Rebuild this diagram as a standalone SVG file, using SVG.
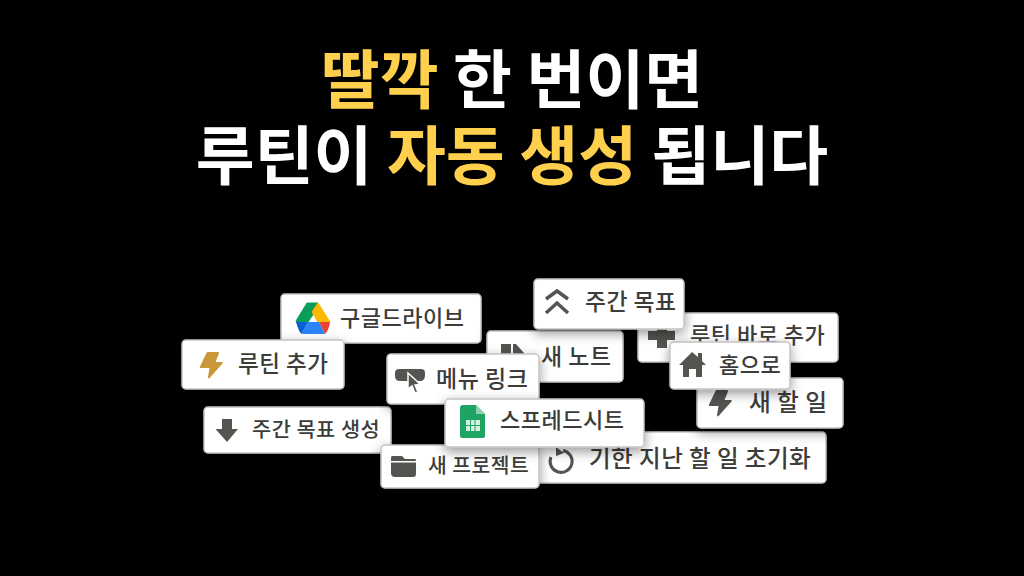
<svg xmlns="http://www.w3.org/2000/svg" width="1024" height="576" viewBox="0 0 1024 576">
<style>
.title{font-family:"Noto Sans CJK KR","Noto Sans",sans-serif;font-weight:700;font-size:64px;fill:#fff;text-anchor:middle}
.hl{fill:#ffd04d}
.card{fill:#fff;stroke:#c4c4c4;stroke-width:1.5;filter:url(#sh)}
.lb{font-family:"Noto Sans CJK KR","Noto Sans",sans-serif;font-weight:500;font-size:22px;fill:#3c3c3a;letter-spacing:.5px}
.ic{fill:#545450}
</style>
<defs>
<filter id="sh" x="-20%" y="-30%" width="140%" height="170%"><feDropShadow dx="0" dy="4" stdDeviation="6" flood-color="#000" flood-opacity=".4"/></filter>
<path id="bolt" d="M9 0 L19 0 Q20.500 0 20 1.500 L16.500 10 H23 Q24.500 10 23.500 11.500 L11 25.500 Q9 27.500 9 25 L10.500 16 H2 Q0.500 16 1 14.500 L7.500 1 Q8 0 9 0Z"/>
</defs>
<rect width="1024" height="576" fill="#000"/>
<text class="title" x="512" y="103"><tspan class="hl">딸깍</tspan> 한 번이면</text>
<text class="title" x="512" y="179">루틴이 <tspan class="hl">자동 생성</tspan> 됩니다</text>

<g id="node-drive"><rect class="card" x="281" y="294" width="200" height="49" rx="4"/>
<path d="M307 303H318L314 313L302 331L296 321Z" fill="#0a9d57" stroke="#0a9d57" stroke-linejoin="round"/><path d="M318 303L330 322H318L312 312Z" fill="#fdb900" stroke="#fdb900" stroke-linejoin="round"/><path d="M296 322H307L302 334Q299 333 296 322Z" fill="#0a5fd0"/><path d="M307 322H319L325 334H302Z" fill="#2a84fc"/><path d="M319 322H330Q329 330 325 334Z" fill="#ea4335"/>
<text class="lb" x="340" y="326">구글드라이브</text></g>
<g id="node-add-routine"><rect class="card" x="182" y="340" width="162" height="49" rx="4"/>
<use href="#bolt" x="199" y="352" fill="#c9963a"/>
<text class="lb" x="238" y="372" style="font-size:22.500px">루틴 추가</text></g>
<g id="node-weekly-create"><rect class="card" x="204" y="407" width="187" height="46" rx="4"/>
<path class="ic" d="M222 419H232V429H238L227 442L215.500 429H222Z"/>
<text class="lb" x="252" y="437" style="font-size:20.800px">주간 목표 생성</text></g>
<g id="node-note"><rect class="card" x="487" y="331" width="136" height="51" rx="4"/>
<path class="ic" d="M501 344H511V356H501ZM513 344H516L524 353V356H513Z"/>
<text class="lb" x="541" y="365" style="font-size:23px">새 노트</text></g>
<g id="node-reset"><rect class="card" x="535" y="432" width="291" height="51" rx="4"/>
<path d="M551 457A11 11 0 1 0 563 450.500" fill="none" stroke="#545450" stroke-width="3"/><path class="ic" d="M556 447L564 453L556 456Z"/>
<text class="lb" x="589" y="467" style="font-size:23.500px">기한 지난 할 일 초기화</text></g>
<g id="node-project"><rect class="card" x="381" y="445" width="158" height="43" rx="4"/>
<path class="ic" d="M392 456H402L405 459H415Q416 459 416 461V474Q416 477 413 477H395Q391 477 391 473V458Q391 456 392 456Z"/><rect x="391" y="461" width="25" height="1.500" fill="#fff"/>
<text class="lb" x="428" y="473" style="font-size:20.400px">새 프로젝트</text></g>
<g id="node-menu"><rect class="card" x="387" y="354" width="152" height="50" rx="4"/>
<path class="ic" d="M399 369H421Q425 369 425 373V375Q425 381 420 381H416L409 377V381H400Q395 381 395 376V373Q395 369 399 369Z"/><path fill="#545450" stroke="#fff" stroke-width="1.500" d="M408 373L420 384L415 385L418 392L415 393L412 386L408 389Z"/>
<text class="lb" x="436" y="387" style="font-size:23px">메뉴 링크</text></g>
<g id="node-sheet"><rect class="card" x="445" y="399" width="199" height="48" rx="4"/>
<path d="M463 405H476L485 414V436Q485 438 483 438H463Q460 438 460 436V408Q460 405 463 405Z" fill="#20a464"/><path d="M476 405L485 414H476Z" fill="#8ed1b1"/>
<path d="M466 420H480V431H466Z" fill="#d8f0e4"/><path d="M470.500 420V431M475 420V431M466 425.500H480" stroke="#20a464" stroke-width="1"/>
<text class="lb" x="500" y="428">스프레드시트</text></g>
<g id="node-routine-now"><rect class="card" x="638" y="313" width="200" height="49" rx="4"/>
<path class="ic" d="M657 323H667V331H675V340H667V348H657V340H648V331H657Z"/>
<text class="lb" x="690" y="343">루틴 바로 추가</text></g>
<g id="node-task"><rect class="card" x="697" y="378" width="146" height="50" rx="4"/>
<use href="#bolt" x="708" y="390" fill="#545450"/>
<text class="lb" x="749" y="411" style="font-size:23.700px">새 할 일</text></g>
<g id="node-home"><rect class="card" x="670" y="342" width="120" height="47" rx="4"/>
<path class="ic" d="M692 352L698 357V353H702V361L706 365H702V377H696V369H689V377H683V365H679Z"/>
<text class="lb" x="719" y="373">홈으로</text></g>
<g id="node-weekly"><rect class="card" x="534" y="279" width="150" height="50" rx="4"/>
<path d="M546 299L557 291L568 299M546 313L557 303L568 313" fill="none" stroke="#545450" stroke-width="3.500"/>
<text class="lb" x="585" y="310" style="font-size:22.800px">주간 목표</text></g>
<g id="connectors"></g>
</svg>
